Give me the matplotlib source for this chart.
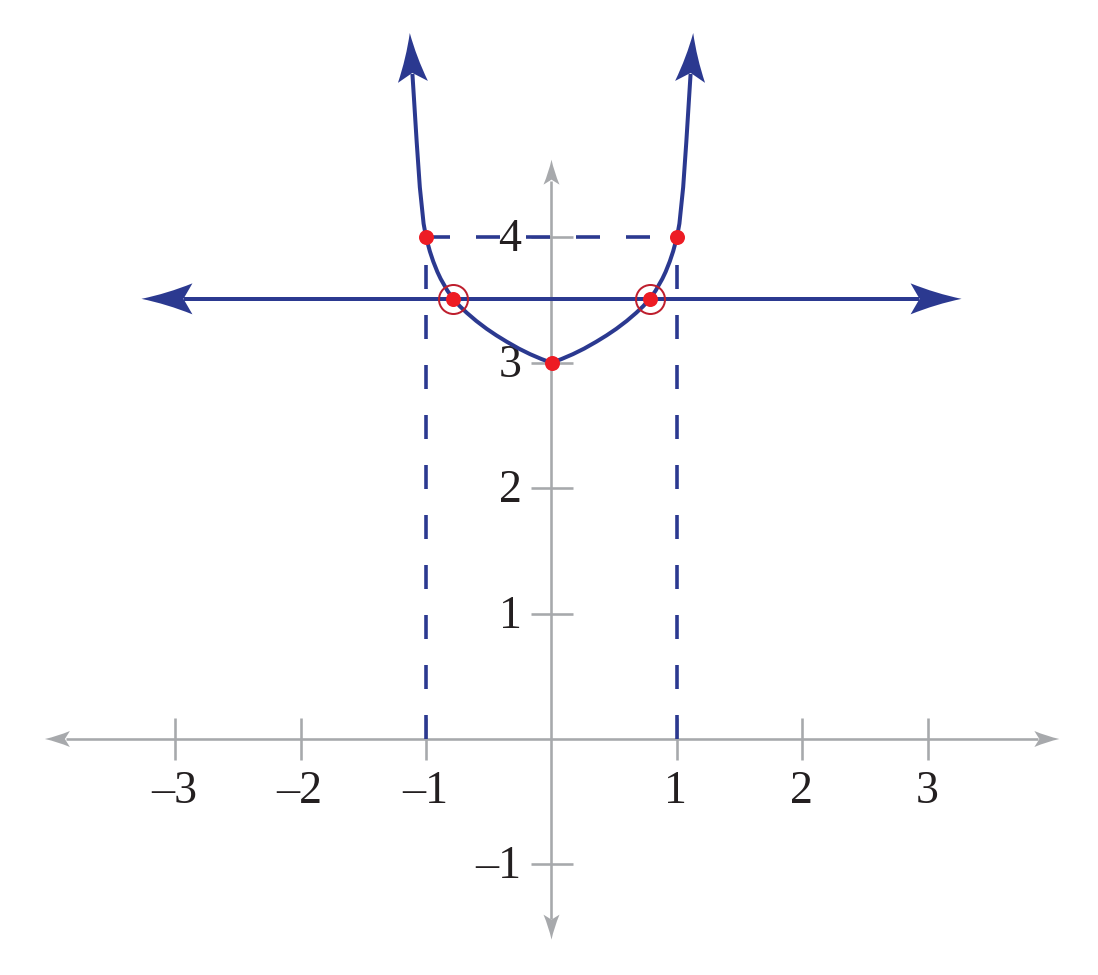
import numpy as np
import matplotlib
matplotlib.use("Agg")
import matplotlib.pyplot as plt
from matplotlib.path import Path
from matplotlib.patches import PathPatch
from matplotlib.transforms import Affine2D, ScaledTranslation

# ---------------- data ----------------
curve_x = [-1.13, -1.10, -1.075, -1.05, -1.02, -1.0, -0.97, -0.943, -0.91, -0.884,
           -0.83, -0.785, -0.73, -0.676, -0.6, -0.517, -0.44, -0.357, -0.26, -0.171,
           -0.08, 0.0,
           0.08, 0.171, 0.26, 0.357, 0.44, 0.517, 0.6, 0.676, 0.73, 0.785, 0.83,
           0.884, 0.91, 0.943, 0.97, 1.0, 1.02, 1.05, 1.075, 1.10, 1.13]
curve_y = [5.63, 5.16, 4.76, 4.40, 4.11, 4.0, 3.889, 3.808, 3.725, 3.670,
           3.575, 3.51, 3.450, 3.399, 3.334, 3.271, 3.219, 3.168, 3.113, 3.069,
           3.030, 3.0,
           3.030, 3.069, 3.113, 3.168, 3.219, 3.271, 3.334, 3.399, 3.450, 3.51, 3.575,
           3.670, 3.725, 3.808, 3.889, 4.0, 4.11, 4.40, 4.76, 5.16, 5.63]

point_x = [-1, 0, 1]
point_y = [4, 3, 4]

solution_x = [-0.785, 0.785]
solution_y = [3.51, 3.51]

hline_x = [-3.27, 3.27]
hline_y = [3.51, 3.51]

guide_x = [-1, 1]
guide_level = 4

x_ticks = [-3, -2, -1, 1, 2, 3]
x_tick_labels = ["\u20133", "\u20132", "\u20131", "1", "2", "3"]
y_ticks = [-1, 1, 2, 3, 4]
y_tick_labels = ["\u20131", "1", "2", "3", "4"]

x_axis_range = [-4.04, 4.05]
y_axis_range = [-1.60, 4.62]

# ---------------- style ----------------
NAVY = "#2B3990"
RED = "#ED1C24"
RING = "#BE1E2D"
GRAY = "#A7A9AC"
TEXT = "#231F20"
FONT = "Liberation Serif"
FS = 33

plt.rcParams["lines.scale_dashes"] = False

W, H, DPI = 1098, 975, 100
PX = 125.4  # pixels per unit
fig = plt.figure(figsize=(W / DPI, H / DPI), dpi=DPI)
ax = fig.add_axes([0, 0, 1, 1])
ax.set_xlim(-551.5 / PX, (W - 551.5) / PX)
ax.set_ylim((739 - H) / PX, 739 / PX)
ax.axis("off")

pt = 72.0 / DPI  # points per pixel

MOVETO, LINETO, CURVE3, CLOSE = Path.MOVETO, Path.LINETO, Path.CURVE3, Path.CLOSEPOLY


def arrow_head(x0, y0, x1, y1, color, L, Wd, N, z):
    """Notched arrowhead with tip at (x1, y1) pointing away from (x0, y0); sizes in px."""
    p0 = ax.transData.transform((x0, y0))
    p1 = ax.transData.transform((x1, y1))
    ang = np.arctan2(p1[1] - p0[1], p1[0] - p0[0])
    verts = [(0, 0), (-0.5 * L, 0.17 * Wd), (-L, Wd / 2), (-L + N, 0),
             (-L, -Wd / 2), (-0.5 * L, -0.17 * Wd), (0, 0), (0, 0)]
    codes = [MOVETO, CURVE3, CURVE3, LINETO, LINETO, CURVE3, CURVE3, CLOSE]
    tr = Affine2D().rotate(ang) + ScaledTranslation(x1, y1, ax.transData)
    ax.add_patch(PathPatch(Path(verts, codes), transform=tr, fc=color,
                           ec="none", zorder=z))


def trimmed(xs, ys, back_px):
    """Pull both ends of a polyline back by back_px pixels (so arrowheads sit on top)."""
    pts = ax.transData.transform(np.column_stack([xs, ys]))
    for tip_i, prev_i in ((0, 1), (-1, -2)):
        d = pts[tip_i] - pts[prev_i]
        u = d / np.hypot(*d)
        pts[tip_i] = pts[tip_i] - u * back_px
    out = ax.transData.inverted().transform(pts)
    return out[:, 0], out[:, 1]


def arrowed_line(xs, ys, color, lw_px, L, Wd, N, z, **kw):
    tx, ty = trimmed(xs, ys, L - N + 1)
    ax.plot(tx, ty, color=color, lw=lw_px * pt, solid_capstyle="butt",
            zorder=z, **kw)
    arrow_head(xs[1], ys[1], xs[0], ys[0], color, L, Wd, N, z + 0.1)
    arrow_head(xs[-2], ys[-2], xs[-1], ys[-1], color, L, Wd, N, z + 0.1)


# ---------------- axes ----------------
arrowed_line(x_axis_range, [0, 0], GRAY, 2.6, 25, 16, 5, 1)
arrowed_line([0, 0], y_axis_range, GRAY, 2.6, 25, 16, 5, 1)

ax.plot(x_ticks, [0] * len(x_ticks), ls="none", marker="|", ms=42 * pt,
        mew=2.6 * pt, color=GRAY, zorder=1)
ax.plot([0] * len(y_ticks), y_ticks, ls="none", marker="_", ms=42 * pt,
        mew=2.6 * pt, color=GRAY, zorder=1)

for xv, lab in zip(x_ticks, x_tick_labels):
    ax.annotate(lab, xy=(xv, 0), xytext=(-1 * pt, -64 * pt), textcoords="offset points",
                ha="center", va="baseline", fontsize=FS, family=FONT,
                color=TEXT, zorder=2)
for yv, lab in zip(y_ticks, y_tick_labels):
    ax.annotate(lab, xy=(0, yv), xytext=(-30 * pt, -14 * pt),
                textcoords="offset points", ha="right", va="baseline",
                fontsize=FS, family=FONT, color=TEXT, zorder=2)

# ---------------- dashed guides ----------------
dash = (0, (24 * pt, 26 * pt))
for gx in guide_x:
    ax.plot([gx, gx], [0, guide_level], color=NAVY, lw=3.6 * pt, ls=dash,
            dash_capstyle="butt", zorder=3)
ax.plot(guide_x, [guide_level, guide_level], color=NAVY, lw=3.6 * pt, ls=dash,
        dash_capstyle="butt", zorder=3)

# ---------------- horizontal line and curve ----------------
arrowed_line(hline_x, hline_y, NAVY, 4.0, 51, 31, 9, 3.5)
arrowed_line(curve_x, curve_y, NAVY, 4.0, 49, 30, 9, 4)

# ---------------- points ----------------
ax.plot(point_x, point_y, ls="none", marker="o", ms=15 * pt, color=RED,
        mec="none", zorder=6)
ax.plot(solution_x, solution_y, ls="none", marker="o", ms=15 * pt, color=RED,
        mec="none", zorder=6)
ax.plot(solution_x, solution_y, ls="none", marker="o", ms=29 * pt, mfc="none",
        mec=RING, mew=2.0 * pt, zorder=6)

fig.savefig("out.png", dpi=DPI)
